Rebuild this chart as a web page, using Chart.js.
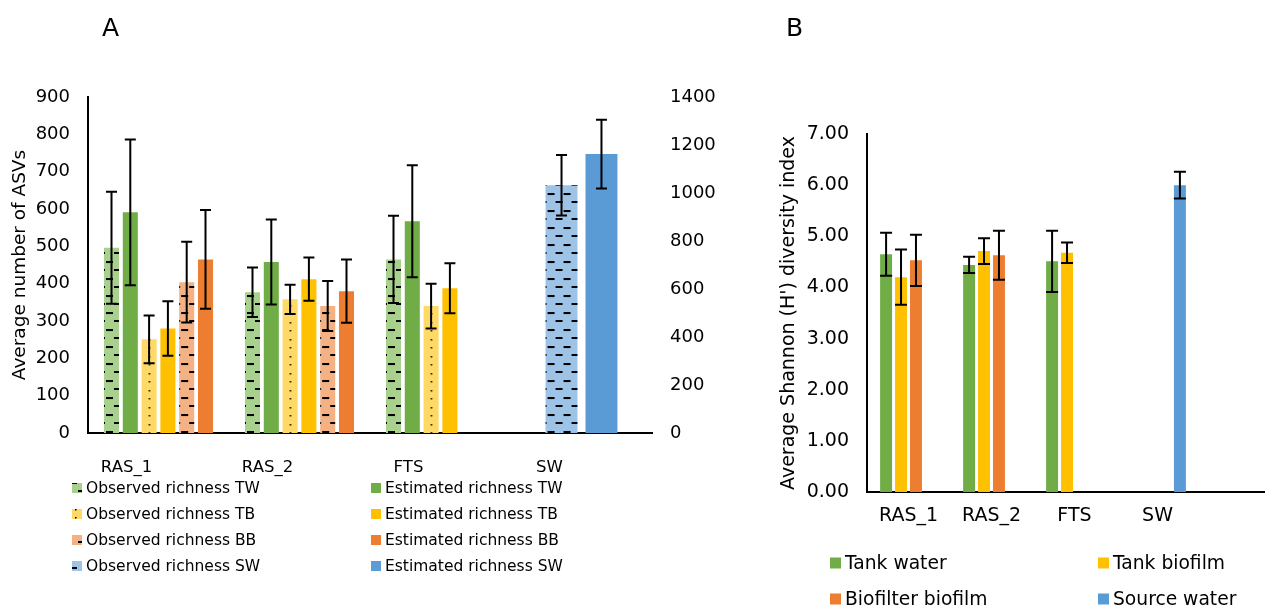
<!DOCTYPE html>
<html lang="en">
<head>
<meta charset="UTF-8"/>
<title>ASV richness and Shannon diversity</title>
<script src="https://cdn.jsdelivr.net/npm/chart.js"></script>
<style>
  html, body { margin: 0; padding: 0; background: #fff; overflow: hidden; }
  body { width: 1265px; height: 608px; position: relative; font-family: "DejaVu Sans", Verdana, sans-serif; color: #000; }
  .panel { position: absolute; top: 0; height: 608px; }
  #wrapA { left: 0; width: 720px; }
  #wrapB { left: 770px; width: 495px; }
  .tag { position: absolute; top: 15px; font-size: 25px; line-height: 1; z-index: 2; }
</style>
</head>
<body>
<div class="panel" id="wrapA"><canvas id="chartA"></canvas></div>
<div class="panel" id="wrapB"><canvas id="chartB"></canvas></div>
<div class="tag" style="left:102px">A</div>
<div class="tag" style="left:786px">B</div>

<script>
const categories = ['RAS_1', 'RAS_2', 'FTS', 'SW'];

// panel A : number of ASVs (SW series sit on the secondary axis)
const obsTW    = [496, 377, 465, null];
const obsTWErr = [150, 66, 117, null];
const estTW    = [591, 458, 567, null];
const estTWErr = [195, 114, 150, null];
const obsTB    = [251, 358, 340, null];
const obsTBErr = [64, 39, 60, null];
const estTB    = [280, 412, 388, null];
const estTBErr = [73, 58, 67, null];
const obsBB    = [404, 340, null, null];
const obsBBErr = [108, 67, null, null];
const estBB    = [465, 380, null, null];
const estBBErr = [132, 85, null, null];
const obsSW    = [null, null, null, 1032];
const obsSWErr = [null, null, null, 126];
const estSW    = [null, null, null, 1162];
const estSWErr = [null, null, null, 143];

// panel B : Shannon index
const tankWater       = [4.65, 4.44, 4.51, null];
const tankWaterErr    = [0.42, 0.16, 0.60, null];
const tankBiofilm     = [4.20, 4.71, 4.68, null];
const tankBiofilmErr  = [0.54, 0.25, 0.20, null];
const bioBiofilm      = [4.53, 4.63, null, null];
const bioBiofilmErr   = [0.50, 0.48, null, null];
const sourceWater     = [null, null, null, 6.00];
const sourceWaterErr  = [null, null, null, 0.26];

Chart.defaults.font.family = '"DejaVu Sans", Verdana, sans-serif';
Chart.defaults.color = '#000';

// excel-like fill patterns, started at the bar's left edge
function makePattern(kind, color, x0) {
  const c = document.createElement('canvas');
  c.width = 16; c.height = 17;
  const g = c.getContext('2d');
  g.fillStyle = color;
  g.fillRect(0, 0, 16, 17);
  g.fillStyle = '#000';
  let ty;
  if (kind === 'dash') {
    g.fillRect(0, 0, 7, 2);
    g.fillRect(8, 8, 7, 2);
    ty = 6; x0 += 2;
  } else {
    g.fillRect(7, 0, 1.5, 1.5);
    g.fillRect(7, 8, 1.5, 1.5);
    ty = 16;
  }
  const p = g.createPattern(c, 'repeat');
  p.setTransform(new DOMMatrix([1, 0, 0, 1, x0, ty]));
  return p;
}

function patternFill(kind, color) {
  return c => {
    const el = c.element;
    if (c.type !== 'data' || !el || !isFinite(el.x) || !isFinite(el.width)) return color;
    return makePattern(kind, color, el.x - el.width / 2);
  };
}

const errorBars = {
  id: 'errorBars',
  afterDatasetsDraw(chart, args, o) {
    const ctx = chart.ctx;
    ctx.save();
    ctx.strokeStyle = '#000';
    ctx.lineWidth = 2;
    chart.data.datasets.forEach((ds, i) => {
      const meta = chart.getDatasetMeta(i);
      const ys = chart.scales[meta.yAxisID];
      meta.data.forEach((bar, j) => {
        const v = ds.data[j], e = ds.errors ? ds.errors[j] : null;
        if (v == null || e == null) return;
        const t = ys.getPixelForValue(v + e), b = ys.getPixelForValue(v - e);
        const h = o.cap / 2;
        ctx.beginPath();
        ctx.moveTo(bar.x, t); ctx.lineTo(bar.x, b);
        ctx.moveTo(bar.x - h, t); ctx.lineTo(bar.x + h, t);
        ctx.moveTo(bar.x - h, b); ctx.lineTo(bar.x + h, b);
        ctx.stroke();
      });
    });
    ctx.restore();
  }
};

// two column legend drawn under the plot
const gridLegend = {
  id: 'gridLegend',
  afterDraw(chart, args, o) {
    const ctx = chart.ctx;
    ctx.save();
    ctx.font = o.font;
    ctx.textBaseline = 'middle';
    chart.data.datasets.forEach((ds, i) => {
      const x = o.cols[i % 2], y = o.rows[Math.floor(i / 2)];
      ctx.fillStyle = ds.kind ? makePattern(ds.kind, ds.baseColor, x - 4) : ds.baseColor;
      ctx.fillRect(x, y - o.box / 2, o.box, o.box);
      ctx.fillStyle = '#000';
      ctx.fillText(ds.label, x + o.box + 4, y + 1);
    });
    ctx.restore();
  }
};

function barSet(label, data, errors, color, kind, extra) {
  return Object.assign({
    label, data, errors, baseColor: color, kind,
    backgroundColor: kind ? patternFill(kind, color) : color,
    borderWidth: 0,
    yAxisID: 'y',
    categoryPercentage: 0.8, barPercentage: 0.8
  }, extra || {});
}

// SW pair shares the two middle slots of the cluster, wider bars, right axis
const swObs = { stack: 's2', yAxisID: 'y1', categoryPercentage: 1.70, barPercentage: 0.8 };
const swEst = { stack: 's3', yAxisID: 'y1', categoryPercentage: 1.70, barPercentage: 0.8 };

const chartA = new Chart(document.getElementById('chartA'), {
  type: 'bar',
  data: {
    labels: categories,
    datasets: [
      barSet('Observed richness TW', obsTW, obsTWErr, '#A9D18E', 'dash', { stack: 's0' }),
      barSet('Estimated richness TW', estTW, estTWErr, '#70AD47', null, { stack: 's1' }),
      barSet('Observed richness TB', obsTB, obsTBErr, '#FFD966', 'dot', { stack: 's2' }),
      barSet('Estimated richness TB', estTB, estTBErr, '#FFC000', null, { stack: 's3' }),
      barSet('Observed richness BB', obsBB, obsBBErr, '#F4B183', 'dash', { stack: 's4' }),
      barSet('Estimated richness BB', estBB, estBBErr, '#ED7D31', null, { stack: 's5' }),
      barSet('Observed richness SW', obsSW, obsSWErr, '#9DC3E6', 'dash', swObs),
      barSet('Estimated richness SW', estSW, estSWErr, '#5B9BD5', null, swEst)
    ]
  },
  options: {
    responsive: true, maintainAspectRatio: false, animation: false,
    layout: { padding: { top: 97, right: 0, bottom: 0, left: 0 } },
    plugins: {
      legend: { display: false },
      tooltip: { enabled: false },
      errorBars: { cap: 11 },
      gridLegend: { cols: [72, 371], rows: [488, 514, 540, 566], box: 10, font: '15.5px "DejaVu Sans", Verdana, sans-serif' }
    },
    scales: {
      x: {
        offset: true,
        grid: { display: false, drawTicks: false },
        border: { display: true, color: '#000', width: 2 },
        ticks: { font: { size: 16.5 }, padding: 25, labelOffset: -32, maxRotation: 0 },
        afterFit: s => { s.height = 175; }
      },
      y: {
        position: 'left', min: 0, max: 900, stacked: false,
        grid: { display: false, drawTicks: false },
        border: { display: true, color: '#000', width: 2 },
        ticks: { stepSize: 100, font: { size: 18 }, padding: 18, callback: v => String(v) },
        title: { display: true, text: 'Average number of ASVs', font: { size: 18.5 }, padding: { top: 9, bottom: 0 } },
        afterFit: s => { s.width = 88; }
      },
      y1: {
        position: 'right', min: 0, max: 1400, stacked: false,
        grid: { display: false, drawTicks: false },
        border: { display: false },
        ticks: { stepSize: 200, font: { size: 18 }, padding: 18, callback: v => String(v) },
        afterFit: s => { s.width = 68; }
      }
    }
  },
  plugins: [errorBars, gridLegend]
});

// x axis line in B runs on to the right edge
const longAxis = {
  id: 'longAxis',
  beforeDatasetsDraw(chart) {
    const { ctx, chartArea } = chart;
    ctx.save();
    ctx.strokeStyle = '#000';
    ctx.lineWidth = 2;
    ctx.beginPath();
    ctx.moveTo(chartArea.left, chartArea.bottom);
    ctx.lineTo(chart.width, chartArea.bottom);
    ctx.stroke();
    ctx.restore();
  }
};

const bOpts = { categoryPercentage: 0.72, barPercentage: 0.8 };

const chartB = new Chart(document.getElementById('chartB'), {
  type: 'bar',
  data: {
    labels: categories,
    datasets: [
      barSet('Tank water', tankWater, tankWaterErr, '#70AD47', null, bOpts),
      barSet('Tank biofilm', tankBiofilm, tankBiofilmErr, '#FFC000', null, bOpts),
      barSet('Biofilter biofilm', bioBiofilm, bioBiofilmErr, '#ED7D31', null, bOpts),
      barSet('Source water', sourceWater, sourceWaterErr, '#5B9BD5', null, bOpts)
    ]
  },
  options: {
    responsive: true, maintainAspectRatio: false, animation: false,
    layout: { padding: { top: 134, right: 66, bottom: 0, left: 0 } },
    plugins: {
      legend: { display: false },
      tooltip: { enabled: false },
      errorBars: { cap: 12 },
      gridLegend: { cols: [60, 328], rows: [563, 599], box: 11, font: '18.7px "DejaVu Sans", Verdana, sans-serif' }
    },
    scales: {
      x: {
        offset: true,
        grid: { display: false, drawTicks: false },
        border: { display: false },
        ticks: { font: { size: 19 }, padding: 13, maxRotation: 0 },
        afterFit: s => { s.height = 116; }
      },
      y: {
        min: 0, max: 7,
        grid: { display: false, drawTicks: false },
        border: { display: true, color: '#000', width: 2 },
        ticks: { stepSize: 1, font: { size: 19 }, padding: 18, callback: v => v.toFixed(2) },
        title: { display: true, text: "Average Shannon (H') diversity index", font: { size: 19 }, padding: { top: 8, bottom: 0 } },
        afterFit: s => { s.width = 97; }
      }
    }
  },
  plugins: [errorBars, gridLegend, longAxis]
});

// second pass so the patterns can start at each bar's left edge
chartA.update('none');
</script>
</body>
</html>
